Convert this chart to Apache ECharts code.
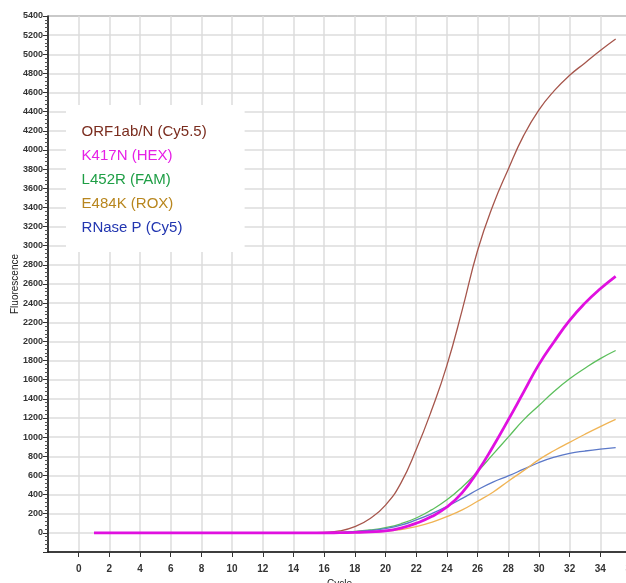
<!DOCTYPE html>
<html>
<head>
<meta charset="utf-8">
<script src="https://cdn.jsdelivr.net/npm/echarts@6/dist/echarts.min.js"></script>
<style>
  html, body { margin: 0; padding: 0; background: #fff; }
  #chart { width: 626px; height: 583px; }
</style>
</head>
<body>
<div id="chart"></div>
<script>
// cycle numbers on the x axis
const cycles = [1, 2, 3, 4, 5, 6, 7, 8, 9, 10, 11, 12, 13, 14, 15, 16, 17, 18, 19, 20,
  21, 22, 23, 24, 25, 26, 27, 28, 29, 30, 31, 32, 33, 34, 35];

// fluorescence
const orf1abN = [0, 0, 0, 0, 0, 0, 0, 0, 0, 0, 0, 0, 0, 0, 0, 5, 20, 65, 150, 290,
  520, 870, 1280, 1750, 2330, 2950, 3420, 3800, 4150, 4420, 4620, 4780, 4910, 5040, 5160];
const k417n = [0, 0, 0, 0, 0, 0, 0, 0, 0, 0, 0, 0, 0, 0, 0, 0, 2, 5, 10, 20,
  50, 100, 170, 270, 420, 640, 900, 1180, 1470, 1760, 2000, 2220, 2400, 2550, 2680];
const l452r = [0, 0, 0, 0, 0, 0, 0, 0, 0, 0, 0, 0, 0, 0, 0, 0, 3, 15, 30, 55,
  95, 155, 240, 345, 480, 640, 820, 1000, 1180, 1330, 1480, 1610, 1720, 1820, 1905];
const e484k = [0, 0, 0, 0, 0, 0, 0, 0, 0, 0, 0, 0, 0, 0, 0, 0, 0, 3, 8, 15,
  35, 65, 110, 170, 240, 330, 425, 540, 650, 765, 860, 945, 1030, 1110, 1185];
const rnaseP = [0, 0, 0, 0, 0, 0, 0, 0, 0, 0, 0, 0, 0, 0, 0, 0, 3, 12, 25, 45,
  80, 135, 200, 275, 360, 450, 530, 595, 665, 735, 790, 830, 855, 875, 890];

const names = ['ORF1ab/N (Cy5.5)', 'K417N (HEX)', 'L452R (FAM)', 'E484K (ROX)', 'RNase P (Cy5)'];
const lineColors = ['#a6564c', '#e010e0', '#5cbf5c', '#f0b455', '#5b78c8'];
const textColors = ['#7a2c1e', '#e620e6', '#1e9e45', '#b8861e', '#2236b0'];

const pairs = arr => cycles.map((c, i) => [c, arr[i]]);

const chart = echarts.init(document.getElementById('chart'));

const mkSeries = (i, arr, width, z) => ({
  name: names[i],
  type: 'line',
  data: pairs(arr),
  smooth: true,
  showSymbol: false,
  z: z,
  color: lineColors[i],
  lineStyle: { color: lineColors[i], width: width }
});

chart.setOption({
  animation: false,
  grid: {
    left: 48, right: -5, top: 16, bottom: 31,
    outerBoundsMode: 'none', containLabel: false,
    show: true, borderColor: '#222', borderWidth: 1
  },
  legend: {
    orient: 'vertical',
    left: 66, top: 105,
    backgroundColor: '#fff',
    padding: [19, 38, 17, 4],
    itemWidth: 0, itemHeight: 14, itemGap: 9,
    itemStyle: { opacity: 0 },
    selectedMode: false,
    z: 10,
    textStyle: { fontFamily: 'Liberation Sans', fontSize: 15 },
    data: names.map((n, i) => ({ name: n, textStyle: { color: textColors[i] } }))
  },
  xAxis: {
    type: 'value',
    min: -2, max: 36, interval: 2,
    name: 'Cycle', nameLocation: 'middle', nameGap: 22,
    nameTextStyle: { fontFamily: 'Liberation Sans', fontSize: 10, color: '#222' },
    axisLine: { onZero: false, lineStyle: { color: '#111', width: 1.5 } },
    axisTick: { show: true, length: 5, lineStyle: { color: '#333' } },
    axisLabel: {
      showMinLabel: false, margin: 12,
      fontFamily: 'Liberation Sans', fontSize: 10, fontWeight: 'bold', color: '#333'
    },
    splitLine: { lineStyle: { color: '#dcdcdc', width: 1.5 } }
  },
  yAxis: {
    type: 'value',
    min: -200, max: 5400, interval: 200,
    name: 'Fluorescence', nameLocation: 'middle', nameGap: 28, nameMoveOverlap: false,
    nameTextStyle: { fontFamily: 'Liberation Sans', fontSize: 10, color: '#222' },
    axisLine: { show: true, onZero: false, lineStyle: { color: '#111', width: 1.5 } },
    axisTick: { show: true, length: 5, lineStyle: { color: '#333' } },
    minorTick: { show: true, splitNumber: 5, length: 3, lineStyle: { color: '#555' } },
    axisLabel: {
      showMinLabel: false, margin: 5,
      formatter: v => String(v),
      fontFamily: 'Liberation Sans', fontSize: 9, fontWeight: 'bold', color: '#333'
    },
    splitLine: { lineStyle: { color: '#dcdcdc', width: 1.5 } }
  },
  series: [
    mkSeries(0, orf1abN, 1.3, 2),
    mkSeries(2, l452r, 1.3, 3),
    mkSeries(4, rnaseP, 1.3, 4),
    mkSeries(3, e484k, 1.3, 5),
    mkSeries(1, k417n, 2.8, 6)
  ]
});
</script>
</body>
</html>
